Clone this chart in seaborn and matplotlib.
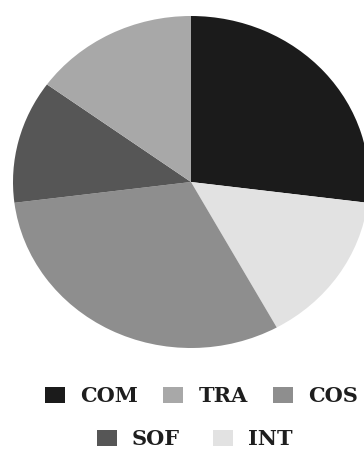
import matplotlib
matplotlib.use("Agg")
import matplotlib.pyplot as plt
import seaborn as sns
from matplotlib.patches import Patch

sns.set_theme(style="white")
plt.rcParams['font.family'] = ['DejaVu Serif', 'Liberation Serif']

# Data (legend order)
categories = ["COM", "TRA", "COS", "SOF", "INT"]
values = [27, 15, 31, 12, 15]
colors = ["#1b1b1b", "#a8a8a8", "#8e8e8e", "#565656", "#e2e2e2"]

# Drawing order clockwise from 12 o'clock
draw_order = ["COM", "INT", "COS", "SOF", "TRA"]
idx = [categories.index(c) for c in draw_order]

fig = plt.figure(figsize=(3.64, 4.5), dpi=100)
ax = fig.add_axes([13 / 364, 1 - 348 / 450, 356 / 364, 332 / 450])
wedges, _ = ax.pie([values[i] for i in idx], colors=[colors[i] for i in idx],
                   startangle=90, counterclock=False, radius=1,
                   wedgeprops=dict(linewidth=0))
ax.set_aspect('auto')
ax.set_xlim(-1, 1)
ax.set_ylim(-1, 1)
ax.axis('off')

handles = {c: Patch(facecolor=colors[i], edgecolor='none') for i, c in enumerate(categories)}

fs = 15
legend_kw = dict(frameon=False, handlelength=0.96, handleheight=0.78,
                 handletextpad=0.72, borderpad=0, borderaxespad=0,
                 prop=dict(family='DejaVu Serif', weight='bold', size=fs),
                 loc='center left')
row1 = categories[:3]
row2 = categories[3:]
leg1 = fig.legend([handles[c] for c in row1], row1, ncol=3, columnspacing=1.22,
                  bbox_to_anchor=(45 / 364, 1 - 396 / 450), **legend_kw)
leg2 = fig.legend([handles[c] for c in row2], row2, ncol=2, columnspacing=1.6,
                  bbox_to_anchor=(97 / 364, 1 - 439 / 450), **legend_kw)
for leg in (leg1, leg2):
    for t in leg.get_texts():
        t.set_color("#1e1e1e")

fig.savefig("out.png", dpi=100)
